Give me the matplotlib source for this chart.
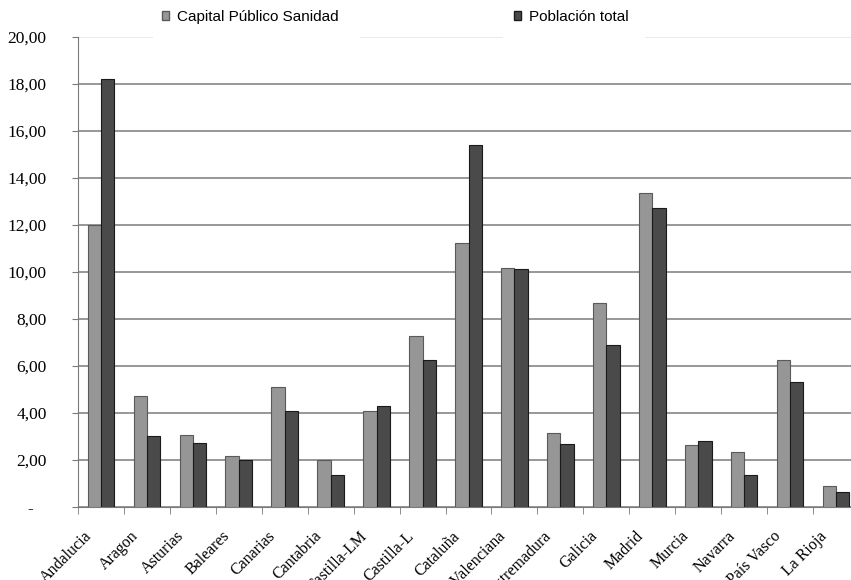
import matplotlib

matplotlib.use("Agg")
import matplotlib.pyplot as plt
import matplotlib.transforms as mtransforms
import numpy as np
from matplotlib.patches import Patch, Rectangle
from matplotlib.ticker import FixedLocator, FuncFormatter

REGIONS = [
    "Andalucia", "Aragon", "Asturias", "Baleares", "Canarias", "Cantabria",
    "Castilla-LM", "Castilla-L", "Cataluña", "C.Valenciana", "Extremadura",
    "Galicia", "Madrid", "Murcia", "Navarra", "País Vasco", "La Rioja",
]
CAPITAL_SANIDAD = [12.00, 4.72, 3.05, 2.18, 5.11, 1.98, 4.07, 7.28, 11.25,
                   10.18, 3.13, 8.68, 13.37, 2.62, 2.35, 6.24, 0.88]
POBLACION = [18.21, 3.02, 2.74, 1.98, 4.07, 1.35, 4.28, 6.26, 15.40,
             10.11, 2.69, 6.89, 12.71, 2.81, 1.35, 5.31, 0.64]
SERIES_NAMES = ["Capital Público Sanidad", "Población total"]

LIGHT = "#969696"
DARK = "#4a4a4a"
GRID = "#7a7a7a"

W, H = 851, 580
fig = plt.figure(figsize=(W / 100, H / 100), dpi=100)
ax = fig.add_axes([78 / W, (H - 507) / H, (859 - 78) / W, (507 - 37) / H])

x = np.arange(len(REGIONS))
bw = 0.29
ax.bar(x - bw / 2, CAPITAL_SANIDAD, bw, color=LIGHT, edgecolor="#5a5a5a", linewidth=0.8, zorder=3)
ax.bar(x + bw / 2, POBLACION, bw, color=DARK, edgecolor="#1a1a1a", linewidth=0.8, zorder=3)

ax.set_xlim(-0.5, len(REGIONS) - 0.5)
ax.set_ylim(0, 20)
ax.set_yticks(np.arange(0, 21, 2))
ax.yaxis.set_major_formatter(
    FuncFormatter(lambda v, _: "-   " if v == 0 else f"{v:.2f}".replace(".", ","))
)
ax.yaxis.grid(True, color=GRID, linewidth=1.1, zorder=0)
ax.get_ygridlines()[-1].set_color("#e4e4e4")
ax.set_axisbelow(True)

ax.set_xticks(x)
ax.set_xticklabels(REGIONS, rotation=45, ha="right", rotation_mode="anchor",
                   family="Liberation Serif", fontsize=11.5)
ax.xaxis.set_minor_locator(FixedLocator(np.arange(-0.5, len(REGIONS), 1.0)))
ax.tick_params(axis="x", which="major", length=0, pad=8)
ax.tick_params(axis="x", which="minor", length=5, color=GRID, direction="out")
ax.tick_params(axis="y", length=4, color=GRID, direction="out", pad=18.5)
for lbl in ax.get_yticklabels():
    lbl.set_family("Liberation Serif")
    lbl.set_fontsize(12.5)

# nudge the rotated region names down-left (after tick_params, which resets transforms)
shift = mtransforms.ScaledTranslation(-0.17, -0.10, fig.dpi_scale_trans)
for lbl in ax.get_xticklabels():
    lbl.set_transform(lbl.get_transform() + shift)

for side in ("top", "right"):
    ax.spines[side].set_visible(False)
ax.spines["left"].set_color(GRID)
ax.spines["bottom"].set_color(GRID)

# white legend boxes that hide the top grid line, as in the original
for x0, x1 in [(153, 360), (503, 645)]:
    fig.patches.append(Rectangle((x0 / W, 1 - 38 / H), (x1 - x0) / W, 38 / H,
                                 transform=fig.transFigure, facecolor="white",
                                 edgecolor="none", zorder=2))

leg_kw = dict(frameon=False, handlelength=0.45, handleheight=0.45, handletextpad=0.55,
              borderpad=0.2, prop={"family": "Liberation Sans", "size": 11})
fig.legend(handles=[Patch(facecolor=LIGHT, edgecolor="#5a5a5a", label=SERIES_NAMES[0])],
           loc="center left", bbox_to_anchor=(151 / W, 1 - 17 / H), **leg_kw)
fig.legend(handles=[Patch(facecolor=DARK, edgecolor="#1a1a1a", label=SERIES_NAMES[1])],
           loc="center left", bbox_to_anchor=(503 / W, 1 - 17 / H), **leg_kw)

fig.savefig("out.png", dpi=100)
